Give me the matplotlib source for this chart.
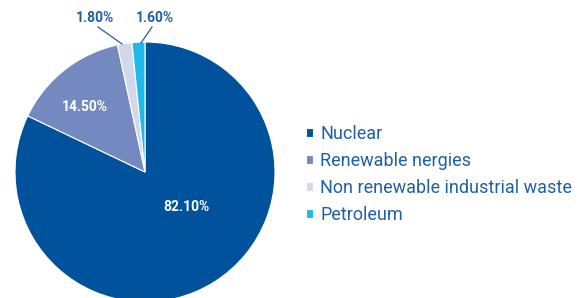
import matplotlib
matplotlib.use("Agg")
import matplotlib.pyplot as plt

categories = ["Nuclear", "Renewable nergies", "Non renewable industrial waste", "Petroleum"]
values = [82.10, 14.50, 1.80, 1.60]
labels = ["82.10%", "14.50%", "1.80%", "1.60%"]
colors = ["#00529C", "#7389C0", "#D3D7EA", "#1EBBE8"]

plt.rcParams['font.family'] = ['Roboto', 'DejaVu Sans']

W, H = 585, 298
fig = plt.figure(figsize=(W / 100, H / 100), dpi=100)
cx, cy, r = 145, 172, 130
ax = fig.add_axes([(cx - r) / W, (H - cy - r) / H, 2 * r / W, 2 * r / H])

wedges, _ = ax.pie(values, colors=colors, startangle=90, counterclock=False,
                   wedgeprops=dict(edgecolor="white", linewidth=0.8))
ax.set_xlim(-1, 1)
ax.set_ylim(-1, 1)
ax.set_aspect('equal')
ax.axis('off')

def d(px, py):
    return ((px - cx) / r, (cy - py) / r)

# inside labels
ax.text(*d(186, 207), labels[0], color="white", fontsize=10, fontweight="bold",
        ha="center", va="center")
ax.text(*d(85, 107), labels[1], color="white", fontsize=10, fontweight="bold",
        ha="center", va="center")
# outside labels with leader lines
lab_col = "#1F5FA8"
ax.text(*d(95, 18), labels[2], color=lab_col, fontsize=10, fontweight="bold",
        ha="center", va="center", clip_on=False)
ax.text(*d(155, 18), labels[3], color=lab_col, fontsize=10, fontweight="bold",
        ha="center", va="center", clip_on=False)
x1, y1 = d(98, 27); x2, y2 = d(122, 44)
ax.plot([x1, x2], [y1, y2], color=lab_col, lw=0.9, clip_on=False)
x1, y1 = d(152, 27); x2, y2 = d(141, 43)
ax.plot([x1, x2], [y1, y2], color=lab_col, lw=0.9, clip_on=False)

leg = fig.legend(wedges, categories, loc="upper left",
                 bbox_to_anchor=(306 / W, 1 - 125 / H), frameon=False,
                 fontsize=13, handlelength=0.38, handleheight=0.38,
                 handletextpad=0.42, labelspacing=0.5, borderpad=0, borderaxespad=0)
for t in leg.get_texts():
    t.set_color(lab_col)

fig.savefig("out.png", dpi=100)
